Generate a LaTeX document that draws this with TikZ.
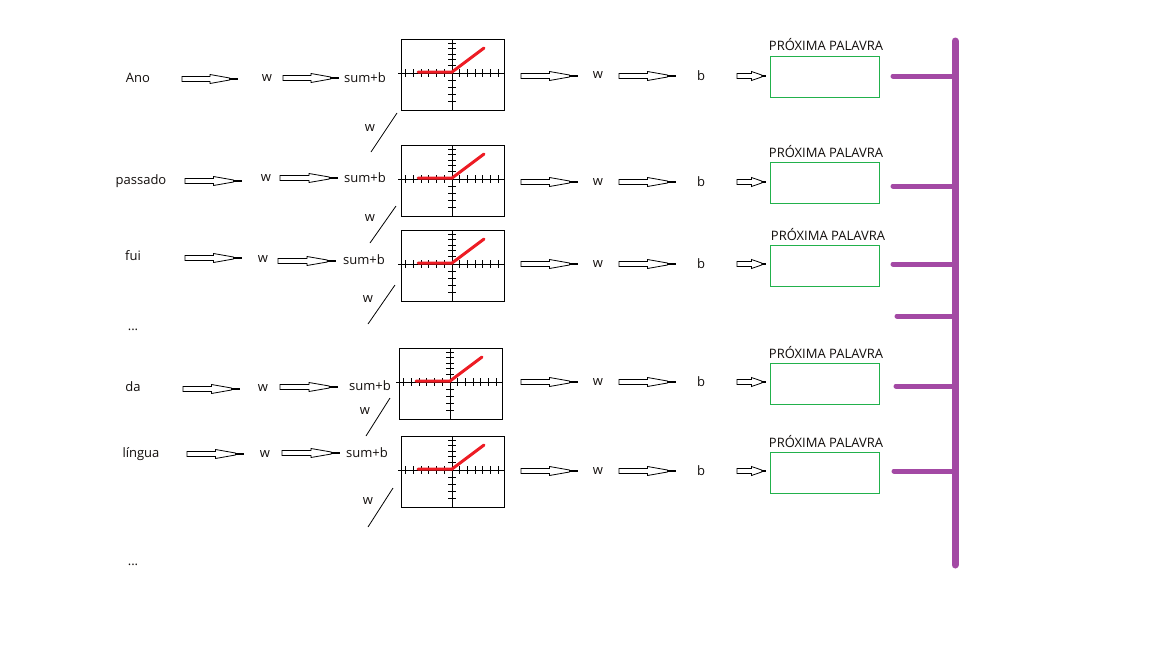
\documentclass[tikz,border=0pt]{standalone}
\usepackage{fontspec}
\setmainfont{Open Sans}
\definecolor{ink}{HTML}{120E0C}
\definecolor{paintgreen}{RGB}{34,177,76}
\definecolor{paintpurple}{RGB}{163,73,164}
\definecolor{paintred}{RGB}{237,28,36}
\tikzset{
  lbl/.style={inner sep=0pt, text=ink, font=\fontsize{13}{15}\selectfont},
  outbox/.style={draw=paintgreen, line width=1pt, minimum width=109pt,
    minimum height=41pt, inner sep=0pt, anchor=north west},
  busline/.style={paintpurple, line width=5pt, line cap=round},
  link/.style={black, line width=0.8pt},
  % hollow block arrow, #1 = total length
  pics/blockarrow/.style={code={
    \draw[line width=0.8pt, fill=white] (0,-2.5) -- (0.5*#1,-2.5) -- (0.5*#1,-4.5)
      -- (0.85*#1,-1) -- (0.85*#1,1) -- (0.5*#1,4.5) -- (0.5*#1,2.5) -- (0,2.5) -- cycle;
    \draw[line width=2.5pt] (0.85*#1,0) -- (#1,0);
  }},
  % small ReLU plot, origin at the top-left corner of its frame
  pics/relu/.style={code={
    \draw[line width=1pt] (0,0) rectangle (103,71);
    \draw[line width=1pt] (-3,34) -- (104,34);
    \draw[line width=1pt] (51,0) -- (51,71);
    \foreach \k in {1,...,6} {
      \draw[line width=0.9pt] (51-7.7*\k,30) -- (51-7.7*\k,38);
      \draw[line width=0.9pt] (51+7.7*\k,30) -- (51+7.7*\k,38);
    }
    \foreach \t in {4,9.5,15,20.5,26,41,48,55,62}
      \draw[line width=0.9pt] (47,\t) -- (55,\t);
    \draw[paintred, line width=3pt, line cap=round] (17,33) -- (51,33) -- (83,9);
  }}
}
\begin{document}
\begin{tikzpicture}[x=1pt,y=-1pt]
\useasboundingbox (0,0) rectangle (1152,648);
\fill[white] (0,0) rectangle (1152,648);

% ---------- row 1 ----------
\node[lbl] (in1) at (138,78) {Ano};
\pic at (182,79) {blockarrow=56};
\node[lbl] (wa1) at (267,78) {w};
\pic at (283,78) {blockarrow=56};
\node[lbl] (sum1) at (365,78) {sum+b};
\pic at (401,39) {relu};
\pic at (521,76) {blockarrow=57};
\node[lbl] (wb1) at (598,75) {w};
\pic at (619,76) {blockarrow=57};
\node[lbl] (b1) at (701,76) {b};
\pic at (737,76) {blockarrow=29};
\node[outbox] (out1) at (770,56) {};
\node[lbl] (lab1) at (826,45) {PRÓXIMA PALAVRA};

% ---------- row 2 ----------
\node[lbl] (in2) at (141,181) {passado};
\pic at (185,181) {blockarrow=57};
\node[lbl] (wa2) at (266,178) {w};
\pic at (280,178) {blockarrow=58};
\node[lbl] (sum2) at (365,178) {sum+b};
\pic at (401,145) {relu};
\pic at (521,182) {blockarrow=57};
\node[lbl] (wb2) at (598,182) {w};
\pic at (619,182) {blockarrow=57};
\node[lbl] (b2) at (701,182) {b};
\pic at (737,182) {blockarrow=29};
\node[outbox] (out2) at (770,162) {};
\node[lbl] (lab2) at (826,152) {PRÓXIMA PALAVRA};

% ---------- row 3 ----------
\node[lbl] (in3) at (133,256) {fui};
\pic at (185,258) {blockarrow=57};
\node[lbl] (wa3) at (263,259) {w};
\pic at (278,261) {blockarrow=58};
\node[lbl] (sum3) at (364,260) {sum+b};
\pic at (401,230) {relu};
\pic at (521,264) {blockarrow=57};
\node[lbl] (wb3) at (598,264) {w};
\pic at (619,264) {blockarrow=57};
\node[lbl] (b3) at (701,264) {b};
\pic at (737,264) {blockarrow=29};
\node[outbox] (out3) at (770,245) {};
\node[lbl] (lab3) at (828,235) {PRÓXIMA PALAVRA};

\node[lbl] (dots1) at (133,330) {...};

% ---------- row 4 ----------
\node[lbl] (in4) at (133,387) {da};
\pic at (183,389) {blockarrow=57};
\node[lbl] (wa4) at (263,388) {w};
\pic at (280,387) {blockarrow=58};
\node[lbl] (sum4) at (370,386) {sum+b};
\pic at (399,348) {relu};
\pic at (521,382) {blockarrow=57};
\node[lbl] (wb4) at (598,382) {w};
\pic at (619,382) {blockarrow=57};
\node[lbl] (b4) at (701,382) {b};
\pic at (737,382) {blockarrow=29};
\node[outbox] (out4) at (770,363) {};
\node[lbl] (lab4) at (826,353) {PRÓXIMA PALAVRA};

% ---------- row 5 ----------
\node[lbl] (in5) at (141,454) {língua};
\pic at (187,454) {blockarrow=57};
\node[lbl] (wa5) at (265,454) {w};
\pic at (282,453) {blockarrow=58};
\node[lbl] (sum5) at (367,453) {sum+b};
\pic at (401,436) {relu};
\pic at (521,471) {blockarrow=57};
\node[lbl] (wb5) at (598,471) {w};
\pic at (619,471) {blockarrow=57};
\node[lbl] (b5) at (701,471) {b};
\pic at (737,471) {blockarrow=29};
\node[outbox] (out5) at (770,452) {};
\node[lbl] (lab5) at (826,442) {PRÓXIMA PALAVRA};

\node[lbl] (dots2) at (133,565) {...};

% ---------- recurrent weights between rows ----------
\coordinate (r1a) at (397,113); \coordinate (r1b) at (371,152);
\coordinate (r2a) at (396,206); \coordinate (r2b) at (370,243);
\coordinate (r3a) at (395,285); \coordinate (r3b) at (368,324);
\coordinate (r4a) at (390,398); \coordinate (r4b) at (366,436);
\coordinate (r5a) at (393,488); \coordinate (r5b) at (368,527);
\draw[link] (r1a) -- (r1b);
\draw[link] (r2a) -- (r2b);
\draw[link] (r3a) -- (r3b);
\draw[link] (r4a) -- (r4b);
\draw[link] (r5a) -- (r5b);
\node[lbl] (wr1) at (370,128) {w};
\node[lbl] (wr2) at (370,218) {w};
\node[lbl] (wr3) at (368,299) {w};
\node[lbl] (wr4) at (365,411) {w};
\node[lbl] (wr5) at (368,501) {w};

% ---------- output bus ----------
\coordinate (busTop) at (955,41);
\coordinate (busBot) at (955,565);
\draw[busline, line width=7pt] (busTop) -- (busBot);
\coordinate (s1) at (893,76);
\coordinate (s2) at (893,186);
\coordinate (s3) at (893,264);
\coordinate (s4) at (897,316);
\coordinate (s5) at (896,386);
\coordinate (s6) at (894,471);
\foreach \s in {s1,s2,s3,s4,s5,s6}
  \draw[busline] (\s) -- (\s -| busTop);
\end{tikzpicture}
\end{document}
